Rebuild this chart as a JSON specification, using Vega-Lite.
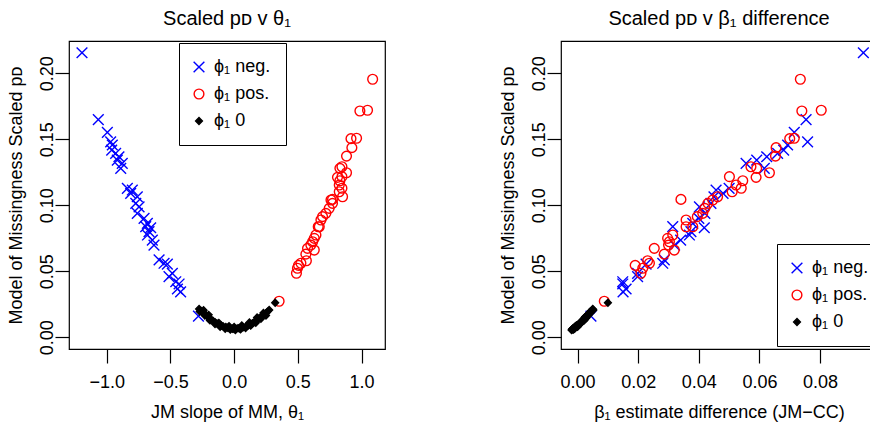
{
  "$schema": "https://vega.github.io/schema/vega-lite/v6.json",
  "background": "white",
  "padding": {"left": 6, "top": 8, "right": 0, "bottom": 0},
  "datasets": {
    "pts": [
      {"grp": "ϕ₁ neg.", "theta": -1.194, "diff": 0.0943, "pd": 0.2156},
      {"grp": "ϕ₁ neg.", "theta": -1.066, "diff": 0.0754, "pd": 0.1650},
      {"grp": "ϕ₁ neg.", "theta": -0.995, "diff": 0.0715, "pd": 0.1553},
      {"grp": "ϕ₁ neg.", "theta": -0.969, "diff": 0.0759, "pd": 0.1480},
      {"grp": "ϕ₁ neg.", "theta": -0.956, "diff": 0.0693, "pd": 0.1457},
      {"grp": "ϕ₁ neg.", "theta": -0.961, "diff": 0.0680, "pd": 0.1419},
      {"grp": "ϕ₁ neg.", "theta": -0.930, "diff": 0.0660, "pd": 0.1394},
      {"grp": "ϕ₁ neg.", "theta": -0.904, "diff": 0.0624, "pd": 0.1368},
      {"grp": "ϕ₁ neg.", "theta": -0.917, "diff": 0.0591, "pd": 0.1343},
      {"grp": "ϕ₁ neg.", "theta": -0.878, "diff": 0.0556, "pd": 0.1318},
      {"grp": "ϕ₁ neg.", "theta": -0.890, "diff": 0.0616, "pd": 0.1280},
      {"grp": "ϕ₁ neg.", "theta": -0.838, "diff": 0.0500, "pd": 0.1129},
      {"grp": "ϕ₁ neg.", "theta": -0.799, "diff": 0.0457, "pd": 0.1116},
      {"grp": "ϕ₁ neg.", "theta": -0.812, "diff": 0.0480, "pd": 0.1091},
      {"grp": "ϕ₁ neg.", "theta": -0.760, "diff": 0.0450, "pd": 0.1065},
      {"grp": "ϕ₁ neg.", "theta": -0.772, "diff": 0.0440, "pd": 0.1015},
      {"grp": "ϕ₁ neg.", "theta": -0.746, "diff": 0.0402, "pd": 0.0989},
      {"grp": "ϕ₁ neg.", "theta": -0.760, "diff": 0.0420, "pd": 0.0939},
      {"grp": "ϕ₁ neg.", "theta": -0.707, "diff": 0.0400, "pd": 0.0901},
      {"grp": "ϕ₁ neg.", "theta": -0.681, "diff": 0.0380, "pd": 0.0864},
      {"grp": "ϕ₁ neg.", "theta": -0.694, "diff": 0.0314, "pd": 0.0838},
      {"grp": "ϕ₁ neg.", "theta": -0.655, "diff": 0.0418, "pd": 0.0830},
      {"grp": "ϕ₁ neg.", "theta": -0.668, "diff": 0.0374, "pd": 0.0800},
      {"grp": "ϕ₁ neg.", "theta": -0.680, "diff": 0.0369, "pd": 0.0775},
      {"grp": "ϕ₁ neg.", "theta": -0.642, "diff": 0.0340, "pd": 0.0737},
      {"grp": "ϕ₁ neg.", "theta": -0.629, "diff": 0.0320, "pd": 0.0699},
      {"grp": "ϕ₁ neg.", "theta": -0.589, "diff": 0.0286, "pd": 0.0586},
      {"grp": "ϕ₁ neg.", "theta": -0.550, "diff": 0.0281, "pd": 0.0561},
      {"grp": "ϕ₁ neg.", "theta": -0.524, "diff": 0.0226, "pd": 0.0555},
      {"grp": "ϕ₁ neg.", "theta": -0.485, "diff": 0.0198, "pd": 0.0485},
      {"grp": "ϕ₁ neg.", "theta": -0.511, "diff": 0.0198, "pd": 0.0460},
      {"grp": "ϕ₁ neg.", "theta": -0.458, "diff": 0.0149, "pd": 0.0421},
      {"grp": "ϕ₁ neg.", "theta": -0.432, "diff": 0.0149, "pd": 0.0404},
      {"grp": "ϕ₁ neg.", "theta": -0.445, "diff": 0.0160, "pd": 0.0366},
      {"grp": "ϕ₁ neg.", "theta": -0.420, "diff": 0.0150, "pd": 0.0345},
      {"grp": "ϕ₁ neg.", "theta": -0.280, "diff": 0.0044, "pd": 0.0160},
      {"grp": "ϕ₁ pos.", "theta": 1.087, "diff": 0.0735, "pd": 0.1955},
      {"grp": "ϕ₁ pos.", "theta": 1.047, "diff": 0.0804, "pd": 0.1720},
      {"grp": "ϕ₁ pos.", "theta": 0.987, "diff": 0.0740, "pd": 0.1715},
      {"grp": "ϕ₁ pos.", "theta": 0.961, "diff": 0.0715, "pd": 0.1508},
      {"grp": "ϕ₁ pos.", "theta": 0.917, "diff": 0.0700, "pd": 0.1505},
      {"grp": "ϕ₁ pos.", "theta": 0.924, "diff": 0.0655, "pd": 0.1437},
      {"grp": "ϕ₁ pos.", "theta": 0.882, "diff": 0.0653, "pd": 0.1373},
      {"grp": "ϕ₁ pos.", "theta": 0.846, "diff": 0.0572, "pd": 0.1292},
      {"grp": "ϕ₁ pos.", "theta": 0.830, "diff": 0.0591, "pd": 0.1280},
      {"grp": "ϕ₁ pos.", "theta": 0.882, "diff": 0.0633, "pd": 0.1247},
      {"grp": "ϕ₁ pos.", "theta": 0.811, "diff": 0.0589, "pd": 0.1212},
      {"grp": "ϕ₁ pos.", "theta": 0.830, "diff": 0.0545, "pd": 0.1186},
      {"grp": "ϕ₁ pos.", "theta": 0.846, "diff": 0.0501, "pd": 0.1217},
      {"grp": "ϕ₁ pos.", "theta": 0.825, "diff": 0.0523, "pd": 0.1154},
      {"grp": "ϕ₁ pos.", "theta": 0.846, "diff": 0.0540, "pd": 0.1129},
      {"grp": "ϕ₁ pos.", "theta": 0.825, "diff": 0.0510, "pd": 0.1103},
      {"grp": "ϕ₁ pos.", "theta": 0.851, "diff": 0.0462, "pd": 0.1065},
      {"grp": "ϕ₁ pos.", "theta": 0.760, "diff": 0.0446, "pd": 0.1040},
      {"grp": "ϕ₁ pos.", "theta": 0.772, "diff": 0.0341, "pd": 0.1045},
      {"grp": "ϕ₁ pos.", "theta": 0.772, "diff": 0.0430, "pd": 0.1015},
      {"grp": "ϕ₁ pos.", "theta": 0.746, "diff": 0.0420, "pd": 0.0977},
      {"grp": "ϕ₁ pos.", "theta": 0.720, "diff": 0.0413, "pd": 0.0939},
      {"grp": "ϕ₁ pos.", "theta": 0.694, "diff": 0.0395, "pd": 0.0914},
      {"grp": "ϕ₁ pos.", "theta": 0.681, "diff": 0.0358, "pd": 0.0889},
      {"grp": "ϕ₁ pos.", "theta": 0.668, "diff": 0.0358, "pd": 0.0838},
      {"grp": "ϕ₁ pos.", "theta": 0.660, "diff": 0.0380, "pd": 0.0838},
      {"grp": "ϕ₁ pos.", "theta": 0.642, "diff": 0.0314, "pd": 0.0775},
      {"grp": "ϕ₁ pos.", "theta": 0.629, "diff": 0.0297, "pd": 0.0750},
      {"grp": "ϕ₁ pos.", "theta": 0.616, "diff": 0.0303, "pd": 0.0724},
      {"grp": "ϕ₁ pos.", "theta": 0.602, "diff": 0.0300, "pd": 0.0699},
      {"grp": "ϕ₁ pos.", "theta": 0.576, "diff": 0.0253, "pd": 0.0674},
      {"grp": "ϕ₁ pos.", "theta": 0.629, "diff": 0.0319, "pd": 0.0661},
      {"grp": "ϕ₁ pos.", "theta": 0.563, "diff": 0.0286, "pd": 0.0630},
      {"grp": "ϕ₁ pos.", "theta": 0.567, "diff": 0.0231, "pd": 0.0580},
      {"grp": "ϕ₁ pos.", "theta": 0.524, "diff": 0.0237, "pd": 0.0561},
      {"grp": "ϕ₁ pos.", "theta": 0.497, "diff": 0.0215, "pd": 0.0523},
      {"grp": "ϕ₁ pos.", "theta": 0.489, "diff": 0.0209, "pd": 0.0485},
      {"grp": "ϕ₁ pos.", "theta": 0.505, "diff": 0.0190, "pd": 0.0545},
      {"grp": "ϕ₁ pos.", "theta": 0.353, "diff": 0.0088, "pd": 0.0273},
      {"grp": "ϕ₁ 0", "theta": -0.275, "diff": 0.0050, "pd": 0.0215},
      {"grp": "ϕ₁ 0", "theta": -0.260, "diff": 0.0045, "pd": 0.0200},
      {"grp": "ϕ₁ 0", "theta": -0.250, "diff": 0.0040, "pd": 0.0190},
      {"grp": "ϕ₁ 0", "theta": -0.236, "diff": 0.0038, "pd": 0.0182},
      {"grp": "ϕ₁ 0", "theta": -0.220, "diff": 0.0032, "pd": 0.0168},
      {"grp": "ϕ₁ 0", "theta": -0.205, "diff": 0.0025, "pd": 0.0155},
      {"grp": "ϕ₁ 0", "theta": -0.196, "diff": 0.0028, "pd": 0.0145},
      {"grp": "ϕ₁ 0", "theta": -0.180, "diff": 0.0020, "pd": 0.0135},
      {"grp": "ϕ₁ 0", "theta": -0.165, "diff": 0.0015, "pd": 0.0125},
      {"grp": "ϕ₁ 0", "theta": -0.150, "diff": 0.0012, "pd": 0.0115},
      {"grp": "ϕ₁ 0", "theta": -0.135, "diff": 0.0005, "pd": 0.0105},
      {"grp": "ϕ₁ 0", "theta": -0.118, "diff": 0.0002, "pd": 0.0095},
      {"grp": "ϕ₁ 0", "theta": -0.100, "diff": -0.0003, "pd": 0.0088},
      {"grp": "ϕ₁ 0", "theta": -0.085, "diff": -0.0005, "pd": 0.0082},
      {"grp": "ϕ₁ 0", "theta": -0.065, "diff": -0.0008, "pd": 0.0078},
      {"grp": "ϕ₁ 0", "theta": -0.050, "diff": -0.0010, "pd": 0.0072},
      {"grp": "ϕ₁ 0", "theta": -0.030, "diff": -0.0012, "pd": 0.0068},
      {"grp": "ϕ₁ 0", "theta": -0.013, "diff": -0.0015, "pd": 0.0065},
      {"grp": "ϕ₁ 0", "theta": 0.000, "diff": -0.0018, "pd": 0.0062},
      {"grp": "ϕ₁ 0", "theta": 0.015, "diff": -0.0016, "pd": 0.0066},
      {"grp": "ϕ₁ 0", "theta": 0.030, "diff": -0.0012, "pd": 0.0070},
      {"grp": "ϕ₁ 0", "theta": 0.039, "diff": -0.0014, "pd": 0.0068},
      {"grp": "ϕ₁ 0", "theta": 0.055, "diff": -0.0010, "pd": 0.0072},
      {"grp": "ϕ₁ 0", "theta": 0.070, "diff": -0.0008, "pd": 0.0076},
      {"grp": "ϕ₁ 0", "theta": 0.092, "diff": -0.0004, "pd": 0.0082},
      {"grp": "ϕ₁ 0", "theta": 0.110, "diff": 0.0000, "pd": 0.0090},
      {"grp": "ϕ₁ 0", "theta": 0.125, "diff": 0.0004, "pd": 0.0098},
      {"grp": "ϕ₁ 0", "theta": 0.144, "diff": 0.0008, "pd": 0.0108},
      {"grp": "ϕ₁ 0", "theta": 0.160, "diff": 0.0012, "pd": 0.0118},
      {"grp": "ϕ₁ 0", "theta": 0.180, "diff": 0.0018, "pd": 0.0132},
      {"grp": "ϕ₁ 0", "theta": 0.196, "diff": 0.0022, "pd": 0.0145},
      {"grp": "ϕ₁ 0", "theta": 0.215, "diff": 0.0028, "pd": 0.0158},
      {"grp": "ϕ₁ 0", "theta": 0.230, "diff": 0.0033, "pd": 0.0168},
      {"grp": "ϕ₁ 0", "theta": 0.249, "diff": 0.0040, "pd": 0.0182},
      {"grp": "ϕ₁ 0", "theta": 0.262, "diff": 0.0046, "pd": 0.0195},
      {"grp": "ϕ₁ 0", "theta": 0.275, "diff": 0.0052, "pd": 0.0207},
      {"grp": "ϕ₁ 0", "theta": 0.322, "diff": 0.0100, "pd": 0.0262},
      {"grp": "ϕ₁ 0", "theta": -0.270, "diff": 0.0042, "pd": 0.0195},
      {"grp": "ϕ₁ 0", "theta": -0.230, "diff": 0.0030, "pd": 0.0165},
      {"grp": "ϕ₁ 0", "theta": -0.190, "diff": 0.0022, "pd": 0.0128},
      {"grp": "ϕ₁ 0", "theta": -0.150, "diff": 0.0008, "pd": 0.0100},
      {"grp": "ϕ₁ 0", "theta": -0.110, "diff": 0.0000, "pd": 0.0080},
      {"grp": "ϕ₁ 0", "theta": -0.070, "diff": -0.0010, "pd": 0.0065},
      {"grp": "ϕ₁ 0", "theta": -0.030, "diff": -0.0014, "pd": 0.0058},
      {"grp": "ϕ₁ 0", "theta": 0.010, "diff": -0.0020, "pd": 0.0055},
      {"grp": "ϕ₁ 0", "theta": 0.050, "diff": -0.0016, "pd": 0.0060},
      {"grp": "ϕ₁ 0", "theta": 0.090, "diff": -0.0010, "pd": 0.0070},
      {"grp": "ϕ₁ 0", "theta": 0.130, "diff": 0.0000, "pd": 0.0088},
      {"grp": "ϕ₁ 0", "theta": 0.170, "diff": 0.0010, "pd": 0.0110},
      {"grp": "ϕ₁ 0", "theta": 0.210, "diff": 0.0020, "pd": 0.0140},
      {"grp": "ϕ₁ 0", "theta": 0.250, "diff": 0.0035, "pd": 0.0165},
      {"grp": "ϕ₁ 0", "theta": -0.240, "diff": 0.0048, "pd": 0.0205},
      {"grp": "ϕ₁ 0", "theta": -0.200, "diff": 0.0036, "pd": 0.0170},
      {"grp": "ϕ₁ 0", "theta": -0.120, "diff": 0.0012, "pd": 0.0110},
      {"grp": "ϕ₁ 0", "theta": -0.040, "diff": -0.0006, "pd": 0.0085},
      {"grp": "ϕ₁ 0", "theta": 0.000, "diff": -0.0010, "pd": 0.0078},
      {"grp": "ϕ₁ 0", "theta": 0.060, "diff": -0.0004, "pd": 0.0090},
      {"grp": "ϕ₁ 0", "theta": 0.120, "diff": 0.0010, "pd": 0.0112},
      {"grp": "ϕ₁ 0", "theta": 0.180, "diff": 0.0026, "pd": 0.0150},
      {"grp": "ϕ₁ 0", "theta": 0.230, "diff": 0.0042, "pd": 0.0185}
    ]
  },
  "data": {"name": "pts"},
  "spacing": 176,
  "bounds": "flush",
  "resolve": {"legend": {"stroke": "independent", "fill": "independent", "shape": "independent"}},
  "hconcat": [
    {
      "width": 316,
      "height": 308,
      "title": {"text": "Scaled pᴅ v θ₁"},
      "mark": {"type": "point", "filled": true, "size": 95, "strokeWidth": 1.4, "opacity": 1},
      "encoding": {
        "x": {"field": "theta", "type": "quantitative",
              "scale": {"domain": [-1.296, 1.184], "nice": false, "zero": false},
              "axis": {"values": [-1, -0.5, 0, 0.5, 1], "format": ".1f", "title": "JM slope of MM, θ₁", "titleX": 158, "titleY": 68}},
        "y": {"field": "pd", "type": "quantitative",
              "scale": {"domain": [-0.00886, 0.2245], "nice": false, "zero": false},
              "axis": {"values": [0, 0.05, 0.1, 0.15, 0.2], "format": ".2f", "title": "Model of Missingness Scaled pᴅ", "titleX": -53, "titleY": 154}},
        "stroke": {"field": "grp", "type": "nominal",
                   "scale": {"domain": ["ϕ₁ neg.", "ϕ₁ pos.", "ϕ₁ 0"], "range": ["#0000ff", "#ff0000", "#000000"]},
                   "legend": {"orient": "none", "legendX": 110, "legendY": 2, "title": null}},
        "fill": {"field": "grp", "type": "nominal",
                 "scale": {"domain": ["ϕ₁ neg.", "ϕ₁ pos.", "ϕ₁ 0"], "range": ["transparent", "transparent", "#000000"]},
                 "legend": {"orient": "none", "legendX": 110, "legendY": 2, "title": null}},
        "shape": {"field": "grp", "type": "nominal",
                  "scale": {"domain": ["ϕ₁ neg.", "ϕ₁ pos.", "ϕ₁ 0"], "range": ["M-1.1,-1.1L1.1,1.1M-1.1,1.1L1.1,-1.1", "circle", "M0,-0.7L0.7,0L0,0.7L-0.7,0Z"]},
                  "legend": {"orient": "none", "legendX": 110, "legendY": 2, "title": null}}
      }
    },
    {
      "width": 316,
      "height": 308,
      "title": {"text": "Scaled pᴅ v β₁ difference"},
      "mark": {"type": "point", "filled": true, "size": 95, "strokeWidth": 1.4, "opacity": 1},
      "encoding": {
        "x": {"field": "diff", "type": "quantitative",
              "scale": {"domain": [-0.00548, 0.0988], "nice": false, "zero": false},
              "axis": {"values": [0, 0.02, 0.04, 0.06, 0.08], "format": ".2f", "title": "β₁ estimate difference (JM−CC)", "titleX": 158, "titleY": 68}},
        "y": {"field": "pd", "type": "quantitative",
              "scale": {"domain": [-0.00886, 0.2245], "nice": false, "zero": false},
              "axis": {"values": [0, 0.05, 0.1, 0.15, 0.2], "format": ".2f", "title": "Model of Missingness Scaled pᴅ", "titleX": -53, "titleY": 154}},
        "stroke": {"field": "grp", "type": "nominal",
                   "scale": {"domain": ["ϕ₁ neg.", "ϕ₁ pos.", "ϕ₁ 0"], "range": ["#0000ff", "#ff0000", "#000000"]},
                   "legend": {"orient": "none", "legendX": 216, "legendY": 203, "title": null}},
        "fill": {"field": "grp", "type": "nominal",
                 "scale": {"domain": ["ϕ₁ neg.", "ϕ₁ pos.", "ϕ₁ 0"], "range": ["transparent", "transparent", "#000000"]},
                 "legend": {"orient": "none", "legendX": 216, "legendY": 203, "title": null}},
        "shape": {"field": "grp", "type": "nominal",
                  "scale": {"domain": ["ϕ₁ neg.", "ϕ₁ pos.", "ϕ₁ 0"], "range": ["M-1.1,-1.1L1.1,1.1M-1.1,1.1L1.1,-1.1", "circle", "M0,-0.7L0.7,0L0,0.7L-0.7,0Z"]},
                  "legend": {"orient": "none", "legendX": 216, "legendY": 203, "title": null}}
      }
    }
  ],
  "config": {
    "font": "Liberation Sans",
    "view": {"stroke": "#000000", "strokeWidth": 1.2},
    "axis": {"domain": false, "grid": false, "ticks": true, "tickSize": 14, "tickColor": "#000000", "tickWidth": 1.2,
             "labelFont": "Liberation Sans", "labelFontSize": 18, "labelColor": "#000000",
             "titleFont": "Liberation Sans", "titleFontSize": 18, "titleFontWeight": "normal", "titleColor": "#000000",
             "labelFlush": false, "labelOverlap": false, "labelBound": false},
    "axisX": {"labelPadding": 10, "labelBaseline": "top", "titleBaseline": "alphabetic", "titleAlign": "center"},
    "axisY": {"labelAngle": -90, "labelAlign": "center", "labelBaseline": "alphabetic", "labelPadding": 3,
              "titleAngle": -90, "titleAlign": "center", "titleBaseline": "middle"},
    "title": {"font": "Liberation Sans", "fontSize": 20, "fontWeight": "normal", "color": "#000000",
              "anchor": "middle", "frame": "group", "baseline": "alphabetic", "offset": 12},
    "legend": {"strokeColor": "#000000", "fillColor": "#ffffff", "padding": 15, "rowPadding": 9,
               "labelFont": "Liberation Sans", "labelFontSize": 18, "labelColor": "#000000", "labelOffset": 6,
               "symbolOffset": -4,
               "symbolSize": 95, "symbolStrokeWidth": 1.4, "symbolOpacity": 1, "cornerRadius": 0}
  }
}
